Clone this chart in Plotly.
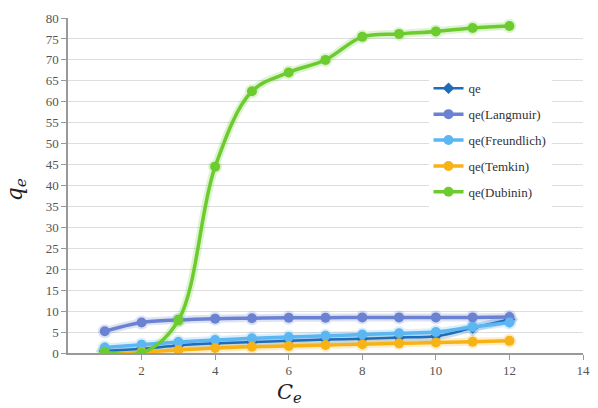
import plotly.graph_objects as go

ce = [1, 2, 3, 4, 5, 6, 7, 8, 9, 10, 11, 12]
qe = [0.5, 1.0, 1.8, 2.3, 2.6, 2.9, 3.2, 3.4, 3.7, 4.0, 6.0, 8.0]
qe_langmuir = [5.2, 7.3, 7.9, 8.2, 8.3, 8.4, 8.4, 8.5, 8.5, 8.5, 8.5, 8.6]
qe_freundlich = [1.3, 2.0, 2.6, 3.1, 3.5, 3.8, 4.1, 4.4, 4.7, 5.0, 6.2, 7.3]
qe_temkin = [-0.5, 0.2, 0.7, 1.2, 1.5, 1.7, 1.9, 2.1, 2.3, 2.5, 2.7, 2.9]
qe_dubinin = [0.3, 0.0, 7.8, 44.5, 62.5, 67.0, 70.0, 75.5, 76.2, 76.8, 77.6, 78.1]

series = [
    ("qe", qe, "#1f6cb8", "diamond"),
    ("qe(Langmuir)", qe_langmuir, "#6b82d2", "circle"),
    ("qe(Freundlich)", qe_freundlich, "#5cb6f2", "circle"),
    ("qe(Temkin)", qe_temkin, "#f7b215", "circle"),
    ("qe(Dubinin)", qe_dubinin, "#6ccb2e", "circle"),
]

fig = go.Figure()
# glow underlay
for name, ys, col, sym in series:
    fig.add_trace(go.Scatter(
        x=ce, y=ys, mode="lines+markers", showlegend=False, hoverinfo="skip",
        legendgroup=name,
        line=dict(color=col, width=8, shape="spline"),
        marker=dict(color=col, size=14, symbol=sym),
        opacity=0.22,
    ))
for name, ys, col, sym in series:
    fig.add_trace(go.Scatter(
        x=ce, y=ys, mode="lines+markers", name=name, legendgroup=name,
        line=dict(color=col, width=3.5 if name != "qe" else 2.5, shape="spline"),
        marker=dict(color=col, size=10 if sym == "circle" else 9, symbol=sym),
    ))

fig.update_layout(
    width=598, height=408,
    margin=dict(l=68, r=8, t=18, b=55),
    paper_bgcolor="white", plot_bgcolor="white",
    font=dict(family="Liberation Serif", color="#555555", size=13),
    legend=dict(
        x=0.70, y=0.835, xanchor="left", yanchor="top",
        bgcolor="white", font=dict(family="Liberation Serif", size=13, color="#333333"),
        itemwidth=30, tracegroupgap=6, traceorder="grouped",
    ),
    xaxis=dict(
        range=[0, 14], tickvals=[2, 4, 6, 8, 10, 12, 14], showgrid=False,
        showline=True, linecolor="#999999", linewidth=1.5, ticks="outside",
        tickcolor="#999999", ticklen=5, zeroline=False,
    ),
    yaxis=dict(
        range=[0, 80], dtick=5, showgrid=True, gridcolor="#dddddd", gridwidth=1.2,
        showline=True, linecolor="#999999", linewidth=1.5, ticks="outside",
        tickcolor="#999999", ticklen=5, zeroline=False,
    ),
    annotations=[
        dict(text="<i>C<sub>e</sub></i>", x=0.431, y=-0.118, xref="paper", yref="paper",
             showarrow=False, xanchor="center", yanchor="middle",
             font=dict(family="DejaVu Serif", size=21, color="#222222")),
        dict(text="<i>q<sub>e</sub></i>", x=-0.1, y=0.487, xref="paper", yref="paper",
             showarrow=False, xanchor="center", yanchor="middle", textangle=-90,
             font=dict(family="DejaVu Serif", size=22, color="#222222")),
    ],
)
fig.write_html("out.html")
